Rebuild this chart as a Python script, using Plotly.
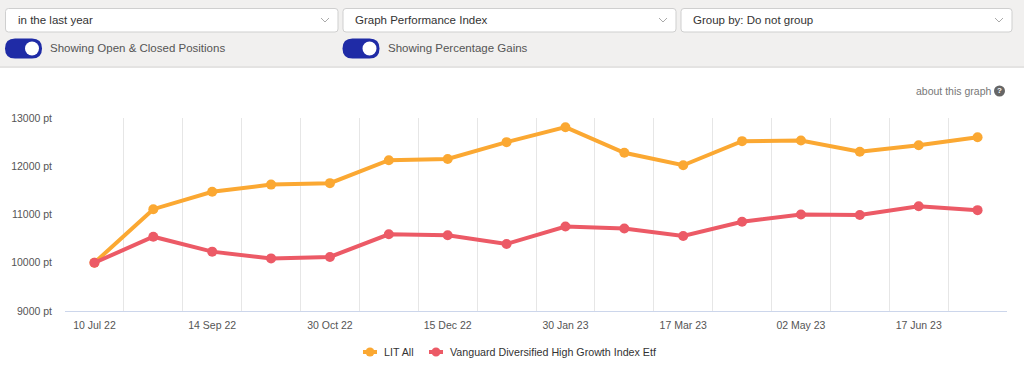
import plotly.graph_objects as go

# ---------------- data ----------------
categories = ["10 Jul 22", "12 Aug 22", "14 Sep 22", "07 Oct 22", "30 Oct 22", "22 Nov 22",
              "15 Dec 22", "07 Jan 23", "30 Jan 23", "22 Feb 23", "17 Mar 23", "09 Apr 23",
              "02 May 23", "25 May 23", "17 Jun 23", "10 Jul 23"]
lit_all = [10000, 11110, 11470, 11620, 11650, 12125, 12150, 12500, 12810, 12280, 12020,
           12520, 12535, 12300, 12435, 12600]
vanguard = [10000, 10540, 10230, 10090, 10120, 10590, 10570, 10390, 10750, 10710, 10555,
            10850, 11000, 10990, 11170, 11090]
series_names = ["LIT All", "Vanguard Diversified High Growth Index Etf"]
series_colors = ["#fba832", "#ec5a66"]
y_ticks = [9000, 10000, 11000, 12000, 13000]
y_tick_labels = ["9000 pt", "10000 pt", "11000 pt", "12000 pt", "13000 pt"]
label_every = 2

# ---------------- geometry ----------------
W, H = 1024, 367
L, R, T, B = 65, 1007, 118, 311
PW, PH = R - L, B - T


def px(x):
    return (x - L) / PW


def py(y):
    return (B - y) / PH


FONT = "Liberation Sans, Arial, sans-serif"

xs = list(range(len(categories)))

fig = go.Figure()
for name, vals, col in zip(series_names, [lit_all, vanguard], series_colors):
    fig.add_trace(go.Scatter(
        x=xs, y=vals, name=name, mode="lines+markers",
        line=dict(color=col, width=4),
        marker=dict(color=col, size=10),
        hoverinfo="skip", showlegend=False,
    ))

shapes = []
annotations = []


def rect(x0, y0, x1, y1, fill, line=None, lw=0, layer="below"):
    shapes.append(dict(type="rect", xref="paper", yref="paper",
                       x0=px(x0), x1=px(x1), y0=py(y1), y1=py(y0),
                       fillcolor=fill, line=dict(color=line or fill, width=lw), layer=layer))


def rounded(x0, y0, x1, y1, r, fill, line, lw=1, layer="below"):
    p = (f"M {px(x0 + r)} {py(y0)} L {px(x1 - r)} {py(y0)} "
         f"Q {px(x1)} {py(y0)} {px(x1)} {py(y0 + r)} "
         f"L {px(x1)} {py(y1 - r)} Q {px(x1)} {py(y1)} {px(x1 - r)} {py(y1)} "
         f"L {px(x0 + r)} {py(y1)} Q {px(x0)} {py(y1)} {px(x0)} {py(y1 - r)} "
         f"L {px(x0)} {py(y0 + r)} Q {px(x0)} {py(y0)} {px(x0 + r)} {py(y0)} Z")
    shapes.append(dict(type="path", xref="paper", yref="paper", path=p,
                       fillcolor=fill, line=dict(color=line, width=lw), layer=layer))


def circle(cx, cy, r, fill, layer="above"):
    shapes.append(dict(type="circle", xref="paper", yref="paper",
                       x0=px(cx - r), x1=px(cx + r), y0=py(cy + r), y1=py(cy - r),
                       fillcolor=fill, line=dict(color=fill, width=0), layer=layer))


def text(x, y, s, size=12, color="#333333", anchor="left"):
    annotations.append(dict(xref="paper", yref="paper", x=px(x), y=py(y), text=s,
                            showarrow=False, xanchor=anchor, yanchor="middle",
                            font=dict(family=FONT, size=size, color=color)))


# top control panel
rect(-2, -2, W + 2, 67, "#f1f0ef")
rect(-2, 66, W + 2, 68, "#e4e3e2")

for (x0, x1, label) in [(5.5, 338, "in the last year"),
                        (343, 676, "Graph Performance Index"),
                        (681, 1012, "Group by: Do not group")]:
    rounded(x0, 8.5, x1, 32, 3, "#ffffff", "#cfcfcf", 1)
    text(x0 + 10, 20, label, size=11.5, color="#333333")
    cx = x1 - 13
    shapes.append(dict(type="path", xref="paper", yref="paper",
                       path=f"M {px(cx - 4)} {py(18)} L {px(cx)} {py(22)} L {px(cx + 4)} {py(18)}",
                       line=dict(color="#aaaaaa", width=1), layer="below"))

for (x0, label) in [(5, "Showing Open & Closed Positions"), (342.5, "Showing Percentage Gains")]:
    rounded(x0, 38.5, x0 + 37, 58.5, 10, "#1f2ba6", "#1f2ba6", 0)
    circle(x0 + 27, 48.5, 7, "#ffffff")
    text(x0 + 43, 48, label, size=11.5, color="#555555")

# about this graph
text(993, 91, "about this graph", size=10.5, color="#777777", anchor="right")
circle(999.5, 91, 5.5, "#666666")
annotations.append(dict(xref="paper", yref="paper", x=px(999.5), y=py(91), text="<b>?</b>",
                        showarrow=False, xanchor="center", yanchor="middle",
                        font=dict(family=FONT, size=8, color="#ffffff")))

# custom legend (Highcharts style: short line + dot)
for (cx, name, col) in zip([370, 436], series_names, series_colors):
    shapes.append(dict(type="line", xref="paper", yref="paper",
                       x0=px(cx - 7), x1=px(cx + 7), y0=py(352), y1=py(352),
                       line=dict(color=col, width=4), layer="above"))
    circle(cx, 352, 4.5, col)
    text(cx + 12, 352, name, size=10.7, color="#333333")

fig.update_layout(
    width=W, height=H,
    margin=dict(l=L, r=W - R, t=T, b=H - B, pad=0, autoexpand=False),
    paper_bgcolor="#ffffff", plot_bgcolor="#ffffff",
    font=dict(family=FONT, color="#666666"),
    showlegend=False,
    shapes=shapes, annotations=annotations,
    hovermode=False,
)
fig.update_xaxes(
    range=[-0.5, len(categories) - 0.5],
    tickmode="array", tickvals=xs[::label_every], ticktext=categories[::label_every],
    showgrid=False, zeroline=False,
    showline=True, linecolor="#ccd6eb", linewidth=1,
    ticks="", ticklabelstandoff=4,
    tickfont=dict(family=FONT, size=10.5, color="#555555"),
    minor=dict(tickmode="array", tickvals=[i - 0.5 for i in range(len(categories) + 1)],
               showgrid=True, gridcolor="#e6e6e6", gridwidth=1, ticks=""),
    fixedrange=True,
)
fig.update_yaxes(
    range=[y_ticks[0], y_ticks[-1]],
    tickmode="array", tickvals=y_ticks, ticktext=y_tick_labels,
    showgrid=False, zeroline=False, showline=False,
    ticks="", ticklabelstandoff=12,
    tickfont=dict(family=FONT, size=10.5, color="#555555"),
    fixedrange=True,
)

fig.write_html("out.html", config={"displayModeBar": False},
               post_script="document.body.style.margin='0';document.body.style.overflow='hidden';")
